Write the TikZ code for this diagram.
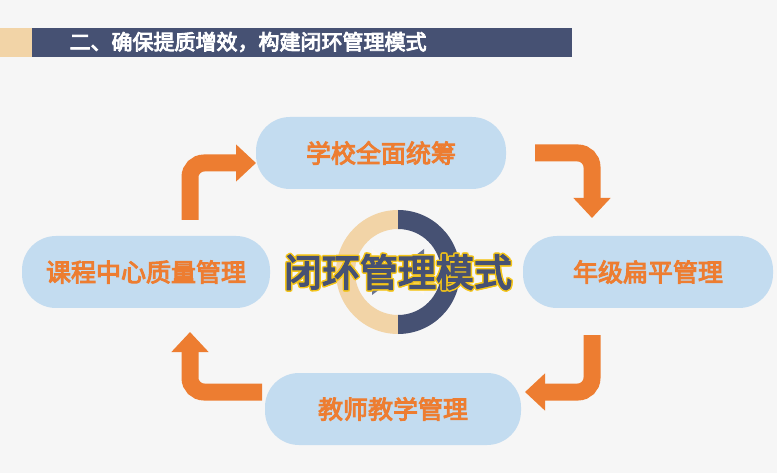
\documentclass[tikz,border=0pt]{standalone}
\usepackage{fontspec}
\usetikzlibrary{positioning, arrows.meta}
\newfontfamily\cjk{Noto Sans CJK SC}[AutoFakeBold=4]
\definecolor{navy}{HTML}{465173}
\definecolor{tan}{HTML}{F2D4A7}
\definecolor{pill}{HTML}{C3DCF0}
\definecolor{orng}{HTML}{ED7D31}
\definecolor{gold}{HTML}{F5C518}
\begin{document}
\begin{tikzpicture}[x=1pt, y=-1pt,
        % styles of the boxes and arrows
        stage/.style={
            fill=pill,
            rounded corners=34pt,
            minimum width=250pt,
            minimum height=72pt,
            text=orng,
            font=\cjk\bfseries\fontsize{25}{25}\selectfont
        },
        loop/.style={
            draw=orng,
            line width=17pt,
            rounded corners=14pt,
            -{Triangle[length=20pt,width=36pt]}
        }
    ]
    \useasboundingbox[fill=gray!7] (0,0) rectangle (777,473);

    % Title bar
    \fill[tan] (0,28) rectangle (32,57);
    \fill[navy] (32,28) rectangle (572,57);
    \node[anchor=west, text=white, font=\cjk\bfseries\fontsize{21}{21}\selectfont] (title) at (66,42) {二、确保提质增效，构建闭环管理模式};

    % Nodes
    \node[stage] (school) at (381,153) {学校全面统筹};
    \node[stage] (grade) at (648,272) {年级扁平管理};
    \node[stage, minimum width=248pt] (course) at (146,272) {课程中心质量管理};
    \node[stage, minimum width=256pt] (teacher) at (393,409) {教师教学管理};

    % Ring
    \fill[tan] (398,210) arc[start angle=-90, end angle=-270, radius=62] -- (398,315) arc[start angle=-270, end angle=-90, radius=43] -- cycle;
    \fill[navy] (398,210) arc[start angle=-90, end angle=90, radius=62] -- (398,315) arc[start angle=90, end angle=-90, radius=43] -- cycle;
    \fill[white!85!tan] (372,249) -- (384,258) -- (372,263) -- cycle;
    \fill[navy!80] (424,249) -- (412,258) -- (424,263) -- cycle;
    \fill[navy!80] (372,295) -- (384,286) -- (372,281) -- cycle;
    \fill[white!85!tan] (424,295) -- (412,286) -- (424,281) -- cycle;
    \foreach \dx/\dy in {-1.5/0,1.5/0,0/-1.5,0/1.5,-1.1/-1.1,1.1/1.1,-1.1/1.1,1.1/-1.1}
        \node[text=gold, font=\cjk\bfseries\fontsize{38}{38}\selectfont] at (398+\dx,272+\dy) {闭环管理模式};
    \node[text=navy, font=\cjk\bfseries\fontsize{38}{38}\selectfont] (center) at (398,272) {闭环管理模式};

    % Arrows
    \coordinate (a1) at (190,220);
    \coordinate (a2) at (535,153);
    \coordinate (a3) at (592,335);
    \coordinate (a4) at (262,392);
    \draw[loop] (a1) -- (190,163) -- (256,163);
    \draw[loop] (a2) -- (592,153) -- (592,218);
    \draw[loop] (a3) -- (592,392) -- (525,392);
    \draw[loop] (a4) -- (190,392) -- (190,332);
\end{tikzpicture}
\end{document}
